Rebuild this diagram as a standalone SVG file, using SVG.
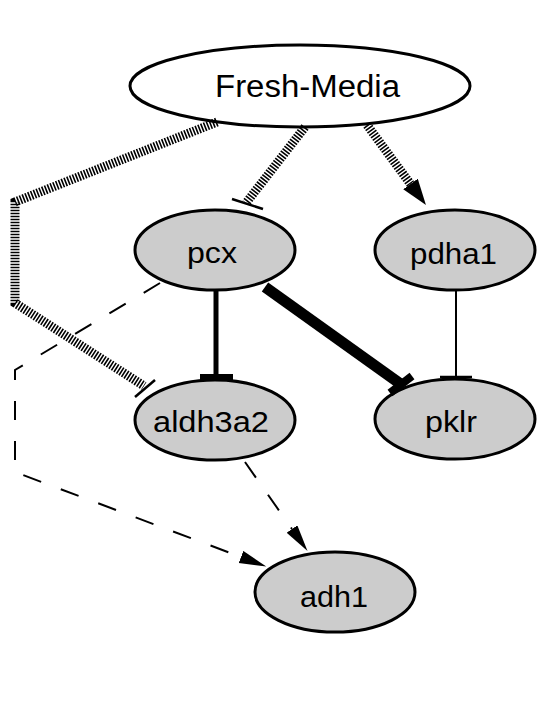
<svg xmlns="http://www.w3.org/2000/svg" width="540" height="720" viewBox="0 0 540 720">
  <style>
    .node ellipse { fill: #cccccc; stroke: #000000; stroke-width: 3; }
    .node.src ellipse { fill: #ffffff; }
    .node text { font-family: "Liberation Sans", Arial, sans-serif; font-size: 29px; fill: #000000; text-anchor: middle; }
    .node.src text { font-size: 31px; }
    .hatch { fill: none; stroke: #000000; stroke-width: 9; stroke-dasharray: 1.6 1.4; }
    .dash { fill: none; stroke: #000000; stroke-width: 2; stroke-dasharray: 19 21; }
    .tee { stroke: #000000; stroke-width: 2.5; fill: none; }
    .solid { stroke: #000000; fill: none; }
  </style>
  <defs>
    <marker id="arrow-big" markerUnits="userSpaceOnUse" markerWidth="30" markerHeight="20" refX="0" refY="9" orient="auto">
      <path d="M0,0 L26,9 L0,18 z" fill="#000000"/>
    </marker>
    <marker id="arrow" markerUnits="userSpaceOnUse" markerWidth="30" markerHeight="16" refX="0" refY="6.5" orient="auto">
      <path d="M0,0 L27,6.5 L0,13 z" fill="#000000"/>
    </marker>
  </defs>
  <rect x="0" y="0" width="540" height="720" fill="#ffffff"/>

  <g id="nodes">
    <g id="node-fresh-media" class="node src">
      <ellipse cx="300" cy="86" rx="170" ry="41"/>
      <text x="307.5" y="97" textLength="185" lengthAdjust="spacingAndGlyphs">Fresh-Media</text>
    </g>
    <g id="node-pcx" class="node">
      <ellipse cx="215" cy="250" rx="80" ry="40"/>
      <text x="212" y="263" textLength="50" lengthAdjust="spacingAndGlyphs">pcx</text>
    </g>
    <g id="node-pdha1" class="node">
      <ellipse cx="455" cy="250" rx="80" ry="40"/>
      <text x="453.5" y="264" textLength="87" lengthAdjust="spacingAndGlyphs">pdha1</text>
    </g>
    <g id="node-aldh3a2" class="node">
      <ellipse cx="215" cy="420" rx="80" ry="40"/>
      <text x="211" y="432" textLength="116" lengthAdjust="spacingAndGlyphs">aldh3a2</text>
    </g>
    <g id="node-pklr" class="node">
      <ellipse cx="455" cy="419" rx="80" ry="40"/>
      <text x="451" y="432" textLength="52" lengthAdjust="spacingAndGlyphs">pklr</text>
    </g>
    <g id="node-adh1" class="node">
      <ellipse cx="335" cy="592" rx="80" ry="40"/>
      <text x="334" y="607" textLength="68" lengthAdjust="spacingAndGlyphs">adh1</text>
    </g>
  </g>

  <g id="connectors">
    <!-- Fresh-Media -| pcx -->
    <line class="hatch" x1="305" y1="127" x2="246" y2="203"/>
    <line class="tee" x1="232" y1="199" x2="263" y2="209"/>
    <!-- Fresh-Media -> pdha1 -->
    <line class="hatch" x1="367" y1="125" x2="410.5" y2="184" marker-end="url(#arrow-big)"/>
    <!-- Fresh-Media -| aldh3a2 -->
    <polyline class="hatch" points="217,122 15,202 15,303 144,386"/>
    <line class="tee" x1="135" y1="397" x2="155" y2="380"/>
    <!-- pcx -| aldh3a2 -->
    <line class="solid" x1="216" y1="290" x2="216" y2="376" stroke-width="5"/>
    <rect x="200" y="374" width="33" height="7" fill="#000000"/>
    <!-- pcx -| pklr -->
    <line class="solid" x1="265" y1="287" x2="402" y2="385" stroke-width="11"/>
    <line class="solid" x1="390" y1="393" x2="412" y2="376" stroke-width="8"/>
    <!-- pdha1 -| pklr -->
    <line class="solid" x1="456" y1="290" x2="456" y2="377" stroke-width="2"/>
    <line class="tee" x1="440" y1="377" x2="472" y2="377"/>
    <!-- pcx -> adh1 (dashed) -->
    <polyline class="dash" points="160,283 15,370 15,472 241,557" marker-end="url(#arrow)"/>
    <!-- aldh3a2 -> adh1 (dashed) -->
    <line class="dash" x1="245" y1="462" x2="292" y2="529" marker-end="url(#arrow)"/>
  </g>
</svg>
